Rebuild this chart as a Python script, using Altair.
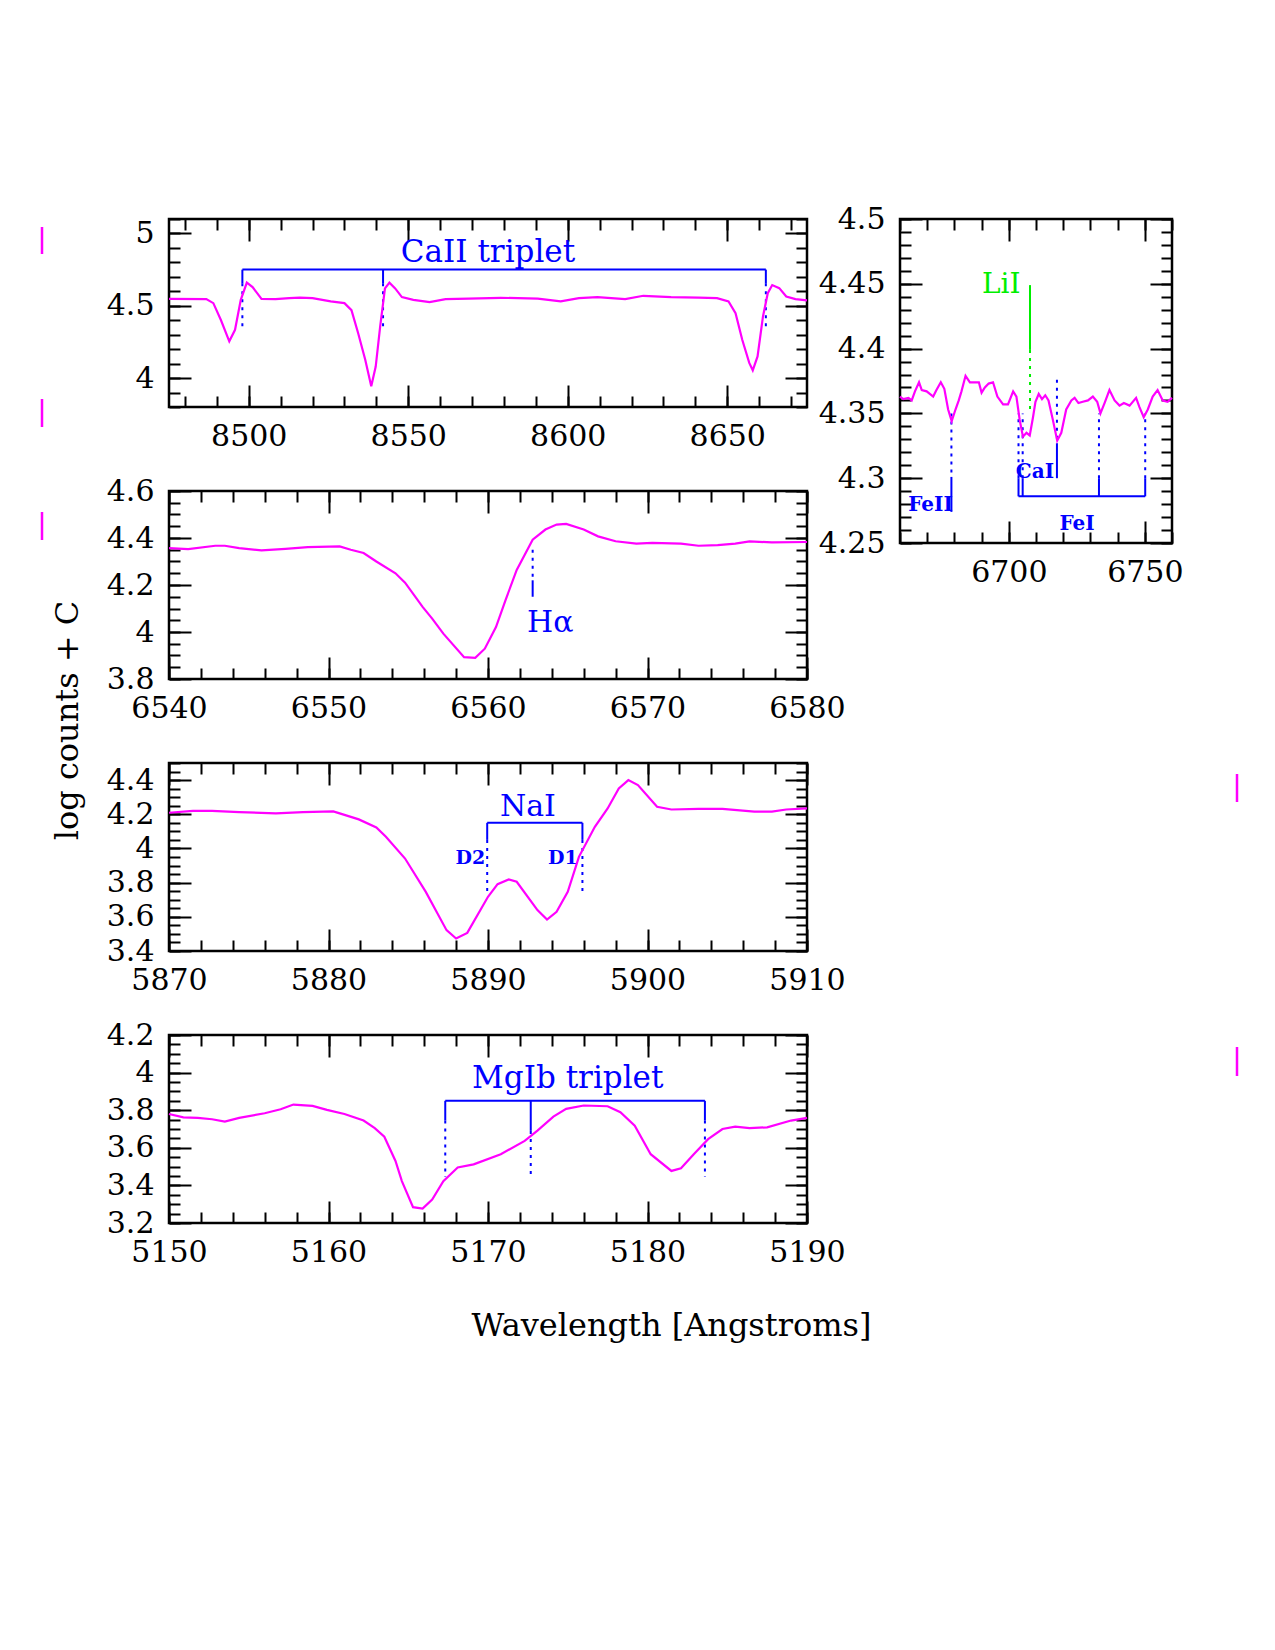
import altair as alt
import pandas as pd

# ---------------- data ----------------
CA_WL = [8475, 8486.7, 8488.9, 8491.3, 8493.9, 8495.7, 8497.5, 8499.4, 8501.2, 8504.0, 8508.4, 8512.7,
         8516, 8520, 8525.7, 8530.0, 8532.2, 8534.3, 8536.5, 8538.4, 8539.8, 8541.2, 8542.7, 8544.1,
         8545.9, 8548.0, 8551.6, 8556.7, 8561.7, 8568.9, 8579.0, 8590.6, 8597.8, 8603.5, 8609.3, 8618.0,
         8623.7, 8632.4, 8641.0, 8646.8, 8650.4, 8652.6, 8654.7, 8656.9, 8658.0, 8659.5, 8661.2, 8662.7,
         8664.1, 8666.3, 8668.5, 8671.4, 8675]
CA_FLUX = [4.548, 4.546, 4.518, 4.40, 4.254, 4.334, 4.541, 4.66, 4.629, 4.548, 4.546, 4.553,
           4.556, 4.553, 4.53, 4.518, 4.47, 4.31, 4.128, 3.944, 4.08, 4.357, 4.62, 4.66,
           4.62, 4.56, 4.541, 4.525, 4.546, 4.55, 4.555, 4.55, 4.53, 4.553, 4.56, 4.546,
           4.569, 4.56, 4.557, 4.553, 4.53, 4.449, 4.265, 4.105, 4.054, 4.15, 4.426, 4.587,
           4.643, 4.622, 4.564, 4.546, 4.537]

HA_WL = [6540, 6541.2, 6542.9, 6543.5, 6544.4, 6545.8, 6547.3, 6548.7, 6550.7, 6551.4, 6552.2, 6553.0,
         6554.2, 6554.8, 6555.9, 6556.5, 6557.2, 6558.5, 6559.2, 6559.8, 6560.5, 6561.1, 6561.8, 6562.8,
         6563.6, 6564.3, 6564.9, 6566.0, 6566.9, 6568.0, 6569.3, 6570.3, 6572.1, 6573.2, 6574.4, 6575.5,
         6576.4, 6577.8, 6580]
HA_FLUX = [4.357, 4.353, 4.367, 4.367, 4.357, 4.347, 4.354, 4.361, 4.364, 4.35, 4.336, 4.30,
           4.25, 4.21, 4.107, 4.057, 3.993, 3.893, 3.89, 3.929, 4.021, 4.136, 4.264, 4.393,
           4.436, 4.457, 4.46, 4.436, 4.407, 4.386, 4.376, 4.379, 4.376, 4.367, 4.37, 4.376,
           4.386, 4.381, 4.383]

NA_WL = [5870, 5871.5, 5872.7, 5874.4, 5876.7, 5878.4, 5880.3, 5880.7, 5881.9, 5883.0, 5883.6, 5884.8,
         5886.1, 5887.4, 5888.0, 5888.7, 5890.0, 5890.6, 5891.3, 5891.8, 5893.1, 5893.7, 5894.3, 5895.0,
         5895.7, 5896.7, 5897.5, 5898.2, 5898.8, 5899.4, 5900.6, 5901.5, 5903.2, 5904.7, 5906.7, 5907.8,
         5908.7, 5910]
NA_FLUX = [4.209, 4.22, 4.22, 4.213, 4.205, 4.213, 4.217, 4.205, 4.17, 4.123, 4.068, 3.941,
           3.746, 3.522, 3.473, 3.506, 3.717, 3.791, 3.819, 3.805, 3.639, 3.584, 3.629, 3.746,
           3.951, 4.127, 4.234, 4.351, 4.40, 4.371, 4.244, 4.228, 4.232, 4.232, 4.215, 4.215,
           4.228, 4.234]

MG_WL = [5150, 5150.9, 5151.8, 5152.7, 5153.5, 5154.4, 5156.0, 5157.0, 5157.8, 5159.0, 5159.9, 5161.0,
         5162.2, 5162.9, 5163.5, 5164.2, 5164.6, 5165.3, 5165.9, 5166.5, 5167.2, 5168.1, 5169.1, 5170.8,
         5172.3, 5173.1, 5174.1, 5174.9, 5176.0, 5177.5, 5178.3, 5179.2, 5180.2, 5181.5, 5182.1, 5182.9,
         5183.8, 5184.7, 5185.5, 5186.4, 5187.5, 5189.0, 5190]
MG_FLUX = [3.78, 3.762, 3.759, 3.752, 3.739, 3.759, 3.784, 3.805, 3.83, 3.823, 3.802, 3.78,
           3.745, 3.705, 3.659, 3.53, 3.423, 3.284, 3.277, 3.325, 3.423, 3.495, 3.512, 3.566,
           3.637, 3.691, 3.766, 3.807, 3.825, 3.821, 3.789, 3.718, 3.566, 3.477, 3.491, 3.566,
           3.646, 3.70, 3.713, 3.705, 3.709, 3.745, 3.759]

LI_WL = [6660, 6661.2, 6663.1, 6664.3, 6665.5, 6667.0, 6668.0, 6669.8, 6672.2, 6673.4, 6675.0, 6676.3,
         6677.7, 6679.0, 6680.4, 6681.6, 6682.6, 6684.1, 6685.7, 6687.5, 6689.0, 6690.0, 6691.2, 6692.6,
         6694.2, 6695.8, 6697.9, 6699.7, 6701.6, 6702.8, 6704.0, 6705.2, 6706.5, 6707.7, 6708.9, 6709.8,
         6711.0, 6712.2, 6713.4, 6714.6, 6716.2, 6717.8, 6719.3, 6721.1, 6723.0, 6724.2, 6725.6, 6727.2,
         6729.1, 6730.9, 6732.5, 6733.7, 6735.2, 6737.0, 6738.9, 6740.7, 6742.3, 6744.4, 6746.8, 6748.0,
         6749.6, 6751.1, 6752.9, 6754.7, 6756.6, 6758.4, 6760]
LI_FLUX = [4.363, 4.361, 4.362, 4.36, 4.367, 4.374, 4.368, 4.367, 4.363, 4.368, 4.374, 4.369,
           4.353, 4.344, 4.353, 4.36, 4.367, 4.379, 4.374, 4.374, 4.374, 4.366, 4.37, 4.373,
           4.374, 4.363, 4.357, 4.357, 4.367, 4.363, 4.345, 4.332, 4.335, 4.333, 4.347, 4.359,
           4.365, 4.361, 4.364, 4.36, 4.345, 4.329, 4.335, 4.353, 4.36, 4.362, 4.358, 4.359,
           4.36, 4.363, 4.359, 4.35, 4.358, 4.368, 4.36, 4.356, 4.358, 4.356, 4.362, 4.355,
           4.347, 4.353, 4.363, 4.368, 4.36, 4.359, 4.362]

# line identifications
CA_LINES = [8498.0, 8542.1, 8662.1]
CA_BAR = 4.75
CA_SOLID_END = [4.655, 4.655, 4.655]
CA_DOT_END = 4.35

HA_LINE = [6562.8]
HA_DOT = [4.35, 4.22]
HA_SOLID = [4.22, 4.15]

NA_LINES = [5889.95, 5895.92]
NA_BAR = 4.15
NA_SOLID_END = [4.05, 4.05]
NA_DOT_END = 3.745

MG_LINES = [5167.32, 5172.68, 5183.60]
MG_BAR = 3.85
MG_SOLID_END = [3.745, 3.69, 3.745]
MG_DOT_END = 3.445

LI_LINE = [6707.8]
LI_SOLID = [4.449, 4.399]
LI_DOT = [4.399, 4.35]
FE2_LINE = [6678.9]
FE2_DOT = [4.35, 4.301]
FE2_SOLID = [4.301, 4.274]
CA1_LINE = [6717.7]
CA1_DOT = [4.376, 4.327]
CA1_SOLID = [4.327, 4.30]
FE1_LINES = [6703.57, 6705.10, 6733.15, 6750.15]
FE1_BAR = 4.286
FE1_SOLID_END = [4.30, 4.30, 4.30, 4.30]
FE1_DOT_END = 4.35

# labels: text, x, y
CA_LABEL = ["CaII triplet", 8575.0, 4.862]
HA_LABEL = ["H\u03b1", 6563.9, 4.04]
NA_LABEL = ["NaI", 5892.5, 4.24]
NA_SUB = [["D2", 5888.9, 3.944], ["D1", 5894.7, 3.944]]
MG_LABEL = ["MgIb triplet", 5175.0, 3.965]
LI_LABEL = ["LiI", 6697.2, 4.449]
LI_SUB = [["FeII", 6671.2, 4.279], ["CaI", 6709.6, 4.305], ["FeI", 6725.1, 4.265]]

X_TITLE = "Wavelength [Angstroms]"
Y_TITLE = "log counts + C"

# ---------------- styling ----------------
FONT = "DejaVu Serif"
MAGENTA = "#ff00ff"
BLUE = "#0000ff"
GREEN = "#00ee00"
MAJ, MIN = 22, 11
LSIZE = 30
TSIZE = 32
DASH = [3, 5]


def steps(a, b, step):
    n = int(round((b - a) / step))
    return [round(a + i * step, 4) for i in range(n + 1)]


def make_axis(orient, values, size, labels=False, **extra):
    kw = dict(orient=orient, values=values, tickSize=size, offset=-size, domain=False, grid=False,
              labels=labels, ticks=True, tickColor="black", tickWidth=2, labelFlush=False,
              labelOverlap=False, format="~r", labelFont=FONT, labelFontSize=LSIZE,
              labelColor="black", labelPadding=15 if orient in ("left", "right") else 14, title=None)
    kw.update(extra)
    return alt.Axis(**kw)


def vrule(xs, ys, xvals, y1, y2, color=BLUE, dashed=False):
    n = len(xvals)
    y1 = y1 if isinstance(y1, list) else [y1] * n
    y2 = y2 if isinstance(y2, list) else [y2] * n
    df = pd.DataFrame({"x": xvals, "y": y1, "y2": y2})
    mk = dict(color=color, strokeWidth=2)
    if dashed:
        mk["strokeDash"] = DASH
    return alt.Chart(df).mark_rule(**mk).encode(
        x=alt.X("x:Q", scale=xs, axis=None),
        y=alt.Y("y:Q", scale=ys, axis=None),
        y2="y2:Q")


def hrule(xs, ys, x1, x2, y, color=BLUE):
    df = pd.DataFrame({"x": [x1], "x2": [x2], "y": [y]})
    return alt.Chart(df).mark_rule(color=color, strokeWidth=2).encode(
        x=alt.X("x:Q", scale=xs, axis=None), x2="x2:Q",
        y=alt.Y("y:Q", scale=ys, axis=None))


def label(xs, ys, items, size=LSIZE, bold=False, color=BLUE):
    df = pd.DataFrame(items, columns=["t", "x", "y"])
    return alt.Chart(df).mark_text(font=FONT, fontSize=size, fontWeight="bold" if bold else "normal",
                                   color=color, align="center", baseline="middle").encode(
        x=alt.X("x:Q", scale=xs, axis=None),
        y=alt.Y("y:Q", scale=ys, axis=None),
        text="t:N")


def edge_tick(x, y1, y2):
    return alt.Chart(pd.DataFrame({"a": [0]})).mark_rule(color=MAGENTA, strokeWidth=2.5).encode(
        x=alt.value(x), y=alt.value(y1), y2=alt.value(y2))


def panel(wl, flux, xdom, ydom, xmaj, xmin, ymaj, ymin, w, h, extras, xextra=None, yextra=None):
    xs = alt.Scale(domain=xdom, nice=False, zero=False)
    ys = alt.Scale(domain=ydom, nice=False, zero=False)
    spec = pd.DataFrame({"wl": wl, "flux": flux})

    def spectrum(xax, yax, visible):
        return alt.Chart(spec).mark_line(color=MAGENTA, strokeWidth=2.2,
                                         opacity=1 if visible else 0).encode(
            x=alt.X("wl:Q", scale=xs, axis=xax),
            y=alt.Y("flux:Q", scale=ys, axis=yax))

    layers = [
        spectrum(make_axis("bottom", xmin, MIN), make_axis("left", ymin, MIN), False),
        spectrum(make_axis("top", xmaj, MAJ), make_axis("right", ymaj, MAJ), False),
        spectrum(make_axis("top", xmin, MIN), make_axis("right", ymin, MIN), False),
    ]
    layers += extras(xs, ys)
    layers.append(spectrum(make_axis("bottom", xmaj, MAJ, labels=True, **(xextra or {})),
                           make_axis("left", ymaj, MAJ, labels=True, **(yextra or {})), True))
    return alt.layer(*layers).resolve_axis(x="independent", y="independent").properties(width=w, height=h)


def ca_extras(xs, ys):
    return [
        hrule(xs, ys, min(CA_LINES), max(CA_LINES), CA_BAR),
        vrule(xs, ys, CA_LINES, CA_BAR, CA_SOLID_END),
        vrule(xs, ys, CA_LINES, CA_SOLID_END, CA_DOT_END, dashed=True),
        label(xs, ys, [CA_LABEL], size=31),
        edge_tick(-127, 8, 35), edge_tick(-127, 180, 208), edge_tick(-127, 293, 321),
    ]


def ha_extras(xs, ys):
    return [
        vrule(xs, ys, HA_LINE, HA_DOT[0], HA_DOT[1], dashed=True),
        vrule(xs, ys, HA_LINE, HA_SOLID[0], HA_SOLID[1]),
        label(xs, ys, [HA_LABEL]),
    ]


def na_extras(xs, ys):
    return [
        hrule(xs, ys, min(NA_LINES), max(NA_LINES), NA_BAR),
        vrule(xs, ys, NA_LINES, NA_BAR, NA_SOLID_END),
        vrule(xs, ys, NA_LINES, NA_SOLID_END, NA_DOT_END, dashed=True),
        label(xs, ys, [NA_LABEL]),
        label(xs, ys, NA_SUB, size=19, bold=True),
        edge_tick(1068, 11, 39),
    ]


def mg_extras(xs, ys):
    return [
        hrule(xs, ys, min(MG_LINES), max(MG_LINES), MG_BAR),
        vrule(xs, ys, MG_LINES, MG_BAR, MG_SOLID_END),
        vrule(xs, ys, MG_LINES, MG_SOLID_END, MG_DOT_END, dashed=True),
        label(xs, ys, [MG_LABEL], size=31),
        edge_tick(1068, 12, 41),
    ]


def li_extras(xs, ys):
    return [
        vrule(xs, ys, LI_LINE, LI_SOLID[0], LI_SOLID[1], color=GREEN),
        vrule(xs, ys, LI_LINE, LI_DOT[0], LI_DOT[1], color=GREEN, dashed=True),
        vrule(xs, ys, FE2_LINE, FE2_DOT[0], FE2_DOT[1], dashed=True),
        vrule(xs, ys, FE2_LINE, FE2_SOLID[0], FE2_SOLID[1]),
        vrule(xs, ys, CA1_LINE, CA1_DOT[0], CA1_DOT[1], dashed=True),
        vrule(xs, ys, CA1_LINE, CA1_SOLID[0], CA1_SOLID[1]),
        hrule(xs, ys, min(FE1_LINES), max(FE1_LINES), FE1_BAR),
        vrule(xs, ys, FE1_LINES, FE1_BAR, FE1_SOLID_END),
        vrule(xs, ys, FE1_LINES, FE1_SOLID_END, FE1_DOT_END, dashed=True),
        label(xs, ys, [LI_LABEL], size=28, color=GREEN),
        label(xs, ys, LI_SUB, size=20, bold=True),
    ]


W, H = 638, 188

p1 = panel(CA_WL, CA_FLUX, [8475, 8675], [3.8, 5.1], [8500, 8550, 8600, 8650], steps(8480, 8670, 10),
           [4, 4.5, 5], steps(3.8, 5.1, 0.1), W, H, ca_extras)
p2 = panel(HA_WL, HA_FLUX, [6540, 6580], [3.8, 4.6], steps(6540, 6580, 10), steps(6540, 6580, 2),
           steps(3.8, 4.6, 0.2), steps(3.8, 4.6, 0.05), W, H, ha_extras,
           yextra=dict(title=Y_TITLE, titleX=-124, titleY=229, titleAngle=270, titleFont=FONT,
                       titleFontSize=TSIZE, titleFontWeight="normal", titleColor="black",
                       titleAlign="center", titleBaseline="middle"))
p3 = panel(NA_WL, NA_FLUX, [5870, 5910], [3.4, 4.5], steps(5870, 5910, 10), steps(5870, 5910, 2),
           steps(3.4, 4.4, 0.2), steps(3.4, 4.5, 0.05), W, H, na_extras)
p4 = panel(MG_WL, MG_FLUX, [5150, 5190], [3.2, 4.2], steps(5150, 5190, 10), steps(5150, 5190, 2),
           steps(3.2, 4.2, 0.2), steps(3.2, 4.2, 0.05), W, H, mg_extras,
           xextra=dict(title=X_TITLE, titleX=502, titleY=124, titleFont=FONT, titleFontSize=TSIZE,
                       titleFontWeight="normal", titleColor="black", titleAlign="center",
                       titleBaseline="middle"))
p5 = panel(LI_WL, LI_FLUX, [6660, 6760], [4.25, 4.5], [6700, 6750], steps(6660, 6760, 10),
           steps(4.25, 4.5, 0.05), steps(4.25, 4.5, 0.01), 272, 324, li_extras)

left = alt.vconcat(p1, p2, p3, p4, spacing=84, bounds="flush")
chart = alt.hconcat(left, p5, spacing=731, bounds="flush").properties(
    padding={"left": 39, "top": 202, "right": 10, "bottom": 10}
).configure(background="white").configure_view(stroke="black", strokeWidth=2.5)

chart.save("out.html", embed_options={"renderer": "svg", "actions": False})
